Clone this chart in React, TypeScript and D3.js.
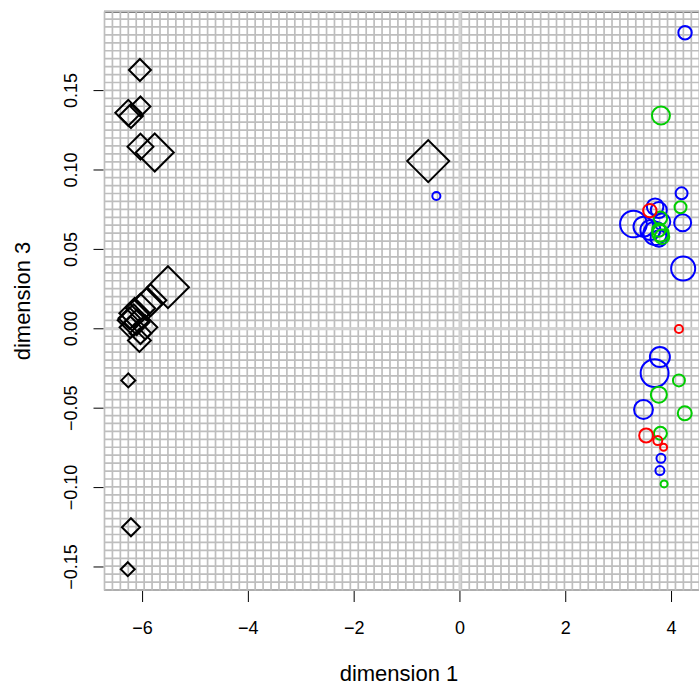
import React from "react";
import * as d3 from "d3";

// black diamonds (group 1)
const diamondX = [-6.05, -6.27, -6.22, -6.04, -6.04, -5.77, -0.60, -5.52, -5.85, -5.93, -6.04, -6.15, -6.25, -6.17, -6.11, -6.23, -5.95, -6.04, -6.06, -6.27, -6.22, -6.28];
const diamondY = [0.163, 0.136, 0.134, 0.140, 0.1147, 0.111, 0.1056, 0.0262, 0.018, 0.0155, 0.0129, 0.0098, 0.0066, 0.0054, 0.0041, 0.0009, 0.0009, -0.0028, -0.0073, -0.0325, -0.125, -0.1514];
const diamondSize = [1.73, 2.04, 1.89, 1.57, 2.04, 2.99, 3.3, 3.3, 2.5, 2.5, 2.3, 2.4, 1.7, 2.5, 2.0, 1.7, 1.9, 1.7, 1.8, 1.1, 1.42, 1.1];

// circles (groups 2-4)
const circleX = [4.255, 4.19, 4.21, 4.22, 3.28, 3.69, 3.76, 3.47, 3.60, 3.69, 3.82, 3.76, 3.78, 3.68, 3.47, 3.80, 3.78, -0.446,
  3.80, 4.17, 3.79, 3.79, 3.76, 3.82, 4.14, 3.76, 4.25, 3.79, 3.86,
  3.59, 4.14, 3.52, 3.74, 3.85];
const circleY = [0.1864, 0.0853, 0.0668, 0.038, 0.066, 0.0769, 0.0748, 0.0643, 0.0622, 0.0601, 0.0674, 0.0569, -0.0178, -0.0279, -0.0508, -0.0816, -0.0893, 0.0836,
  0.1343, 0.0765, 0.0601, 0.0696, 0.0622, 0.058, -0.0325, -0.0415, -0.0532, -0.0658, -0.0977,
  0.0744, -0.0001, -0.0672, -0.0704, -0.0746];
const circleSize = [1.49, 1.33, 1.89, 2.67, 2.96, 1.84, 1.78, 2.22, 2.22, 2.6, 1.84, 1.84, 2.22, 3.1, 2.1, 1.0, 1.0, 0.9,
  2.0, 1.33, 1.84, 1.49, 1.49, 1.62, 1.33, 1.78, 1.55, 1.44, 0.78,
  1.49, 0.9, 1.55, 1.0, 0.78];
const circleGroup = ["blue", "blue", "blue", "blue", "blue", "blue", "blue", "blue", "blue", "blue", "blue", "blue", "blue", "blue", "blue", "blue", "blue", "blue",
  "green", "green", "green", "green", "green", "green", "green", "green", "green", "green", "green",
  "red", "red", "red", "red", "red"];

const xTicks = [-6, -4, -2, 0, 2, 4];
const yTicks = [-0.15, -0.10, -0.05, 0.00, 0.05, 0.10, 0.15];
const xTickLabels = ["\u22126", "\u22124", "\u22122", "0", "2", "4"];
const yTickLabels = ["\u22120.15", "\u22120.10", "\u22120.05", "0.00", "0.05", "0.10", "0.15"];
const xTitle = "dimension 1";
const yTitle = "dimension 3";

const W = 699, H = 684;
const left = 104.5, right = 707.5, top = 12, bottom = 590;
const font = "'Liberation Sans', Arial, Helvetica, sans-serif";

const colorMap: Record<string, string> = { blue: "#0000FF", green: "#00CD00", red: "#FF0000" };

export default function App() {
  const x = d3.scaleLinear().domain([-6.72, 4.68]).range([left, right]);
  const y = d3.scaleLinear().domain([-0.1645, 0.1995]).range([bottom, top]);
  const size = d3.scaleLinear().domain([0, 1]).range([0, 4.5]);

  const step = 7.93;
  const vLines = d3.range(left, W + step, step);
  const hLines = d3.range(bottom, top - 1, -step);

  const diamond = (cx: number, cy: number, h: number) =>
    `M${cx},${cy - h}L${cx + h},${cy}L${cx},${cy + h}L${cx - h},${cy}Z`;

  return (
    <svg width={W} height={H} style={{ position: "absolute", left: 0, top: 0, background: "#fff" }}>
      <rect x={0} y={0} width={W} height={H} fill="#fff" />
      <rect x={left} y={top} width={right - left} height={bottom - top} fill="none" stroke="#000" strokeWidth={1} />
      <g stroke="#BEBEBE" strokeWidth={1.7}>
        {vLines.map((v, i) => (
          <line key={"v" + i} x1={v} x2={v} y1={top - 0.5} y2={bottom + 0.5} />
        ))}
        {hLines.map((h, i) => (
          <line key={"h" + i} x1={left - 0.5} x2={right} y1={h} y2={h} />
        ))}
      </g>
      <g stroke="#D3D3D3" strokeWidth={3}>
        <line x1={x(0)} x2={x(0)} y1={top} y2={bottom} />
        <line x1={left} x2={right} y1={y(0)} y2={y(0)} />
      </g>
      {/* axes ticks */}
      <g stroke="#000" strokeWidth={1}>
        {xTicks.map((t) => (
          <line key={"xt" + t} x1={x(t)} x2={x(t)} y1={bottom + 1} y2={bottom + 12} />
        ))}
        {yTicks.map((t) => (
          <line key={"yt" + t} y1={y(t)} y2={y(t)} x1={left - 1} x2={left - 11} />
        ))}
      </g>
      <g fontFamily={font} fontSize={18} fill="#000">
        {xTicks.map((t, i) => (
          <text key={"xl" + t} x={x(t)} y={628} textAnchor="middle" dominantBaseline="central">
            {xTickLabels[i]}
          </text>
        ))}
        {yTicks.map((t, i) => (
          <text key={"yl" + t} transform={`translate(71,${y(t)}) rotate(-90)`} textAnchor="middle" dominantBaseline="central">
            {yTickLabels[i]}
          </text>
        ))}
      </g>
      <text x={399} y={673} fontFamily={font} fontSize={22} textAnchor="middle" dominantBaseline="central">
        {xTitle}
      </text>
      <text transform={`translate(22,${(top + bottom) / 2}) rotate(-90)`} fontFamily={font} fontSize={22} textAnchor="middle" dominantBaseline="central">
        {yTitle}
      </text>
      <g fill="none" strokeWidth={2}>
        {diamondX.map((dx, i) => (
          <path key={"d" + i} d={diamond(x(dx), y(diamondY[i]), size(diamondSize[i]) * Math.SQRT2)} stroke="#000" />
        ))}
        {circleX.map((cx, i) => (
          <circle key={"c" + i} cx={x(cx)} cy={y(circleY[i])} r={size(circleSize[i])} stroke={colorMap[circleGroup[i]]} />
        ))}
      </g>
    </svg>
  );
}
